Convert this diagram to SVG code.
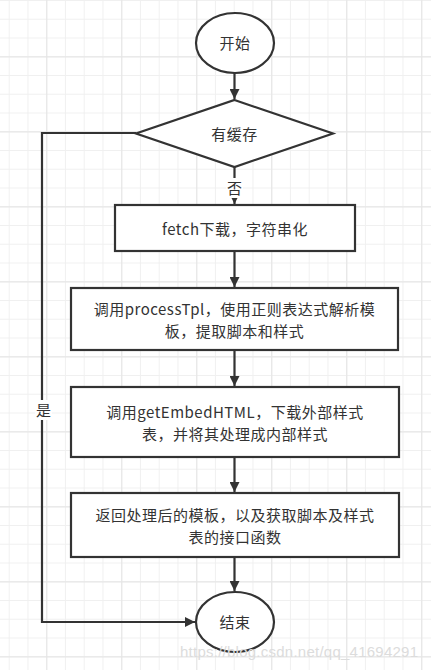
<svg xmlns="http://www.w3.org/2000/svg" width="431" height="670" viewBox="0 0 431 670">
<defs>
<pattern id="minor" x="8.7" y="0" width="18.75" height="18.75" patternUnits="userSpaceOnUse">
<path d="M0.5 0V18.75M0 0.5H18.75" fill="none" stroke="#f0f0f0" stroke-width="1"/>
</pattern>
<pattern id="major" x="-28.7" y="-18.6" width="75" height="75" patternUnits="userSpaceOnUse">
<path d="M0.5 0V75M0 0.5H75" fill="none" stroke="#e4e4e4" stroke-width="1"/>
</pattern>
<marker id="arr" viewBox="0 0 10 10" refX="10" refY="5" markerWidth="10" markerHeight="10" markerUnits="userSpaceOnUse" orient="auto">
<path d="M0 0L10 5L0 10Z" fill="#333"/>
</marker>
<style>
.shape{fill:#fff;stroke:#333;stroke-width:2.2}
.conn{fill:none;stroke:#333;stroke-width:2.2}
.t{font-family:"Noto Sans CJK SC","Noto Sans",sans-serif;font-size:15px;letter-spacing:0.5px;fill:#333;text-anchor:middle}
.lbl{font-family:"Noto Sans CJK SC",sans-serif;font-size:15px;fill:#333;text-anchor:middle}
</style>
</defs>
<rect width="431" height="670" fill="#fff"/>
<rect width="431" height="670" fill="url(#minor)"/>
<rect width="431" height="670" fill="url(#major)"/>
<g id="connectors">
<path class="conn" d="M234.5 73V99" marker-end="url(#arr)"/>
<path class="conn" d="M234.5 167V204" marker-end="url(#arr)"/>
<path class="conn" d="M234.5 251V287" marker-end="url(#arr)"/>
<path class="conn" d="M234.5 350V386" marker-end="url(#arr)"/>
<path class="conn" d="M234.5 457V492" marker-end="url(#arr)"/>
<path class="conn" d="M234.5 557V591" marker-end="url(#arr)"/>
<path class="conn" d="M136 133H42V622H195" marker-end="url(#arr)"/>
<rect x="226" y="178" width="17" height="20" fill="#fff"/>
<text class="lbl" x="234.5" y="194">否</text>
<rect x="35" y="400" width="17" height="20" fill="#fff"/>
<text class="lbl" x="43.5" y="416">是</text>
</g>
<g id="start">
<ellipse class="shape" cx="235" cy="43" rx="39" ry="30"/>
<text class="t" x="235" y="49">开始</text>
</g>
<g id="cache">
<path class="shape" d="M234.5 100L333 133.5L234.5 167L136 133.5Z"/>
<text class="t" x="234.5" y="140">有缓存</text>
</g>
<g id="fetch">
<rect class="shape" x="115" y="205" width="240" height="46"/>
<text class="t" x="235" y="235">fetch下载，字符串化</text>
</g>
<g id="processTpl">
<rect class="shape" x="71" y="288" width="327" height="62"/>
<text class="t" x="234.5" y="315">调用processTpl，使用正则表达式解析模</text>
<text class="t" x="234.5" y="337">板，提取脚本和样式</text>
</g>
<g id="getEmbedHTML">
<rect class="shape" x="71" y="387" width="328" height="70"/>
<text class="t" x="235" y="418">调用getEmbedHTML，下载外部样式</text>
<text class="t" x="235" y="440">表，并将其处理成内部样式</text>
</g>
<g id="return">
<rect class="shape" x="71" y="493" width="328" height="64"/>
<text class="t" x="235" y="521">返回处理后的模板，以及获取脚本及样式</text>
<text class="t" x="235" y="543">表的接口函数</text>
</g>
<g id="end">
<ellipse class="shape" cx="235" cy="622" rx="39" ry="30"/>
<text class="t" x="235" y="628">结束</text>
</g>
<text x="180" y="657" font-family="Liberation Sans, sans-serif" font-size="15" fill="#dcdcdc" textLength="238">https://blog.csdn.net/qq_41694291</text>
</svg>
